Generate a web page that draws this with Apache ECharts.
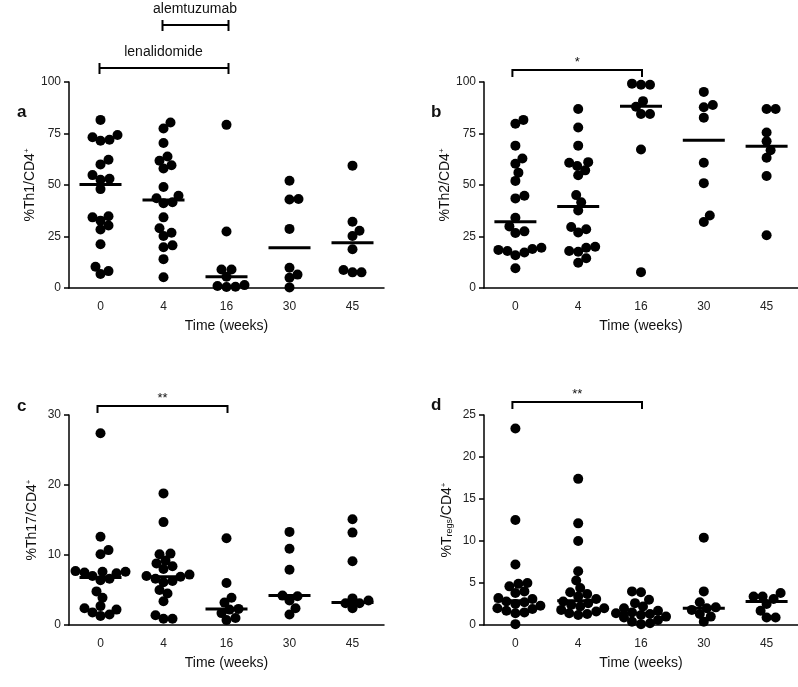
<!DOCTYPE html>
<html><head><meta charset="utf-8">
<script src="https://cdn.jsdelivr.net/npm/echarts@6/dist/echarts.min.js"></script>
<style>html,body{margin:0;padding:0;background:#fff}#c{width:798px;height:687px}</style>
</head><body><div id="c"></div>
<script>
// ---- data ----
const weeks = ['0', '4', '16', '30', '45'];

const th1 = [
  [81.6, 74.3, 73.2, 72.0, 71.5, 62.3, 60.0, 54.8, 53.0, 52.5, 48.0, 34.8, 34.3, 32.7, 30.3, 28.4, 21.2, 10.3, 8.2, 6.8],
  [80.3, 77.4, 70.4, 63.8, 61.8, 59.6, 58.0, 49.0, 44.8, 43.6, 41.6, 41.2, 34.3, 29.0, 26.8, 25.2, 20.7, 19.8, 14.0, 5.2],
  [79.2, 27.4, 9.0, 9.0, 5.5, 1.4, 1.0, 0.6, 0.5],
  [52.1, 43.2, 43.0, 28.7, 9.8, 6.5, 5.0, 0.3],
  [59.4, 32.2, 27.8, 25.2, 18.8, 8.7, 7.6, 7.6]
];
const th1Median = [50.3, 42.7, 5.5, 19.5, 22.0];

const th2 = [
  [81.6, 79.7, 69.1, 62.9, 60.3, 56.0, 52.0, 44.8, 43.5, 34.1, 29.9, 27.5, 26.7, 19.5, 18.9, 18.5, 18.0, 17.2, 15.9, 9.6],
  [86.9, 77.9, 69.1, 61.1, 60.8, 59.2, 57.1, 54.7, 45.1, 41.6, 37.6, 29.6, 28.5, 26.9, 20.0, 19.5, 18.0, 17.6, 14.4, 12.3],
  [99.2, 98.7, 98.7, 90.7, 88.0, 84.5, 84.5, 67.2, 7.7],
  [95.2, 88.8, 87.7, 82.7, 60.8, 50.9, 35.2, 32.0],
  [86.9, 86.9, 75.5, 71.2, 66.9, 63.2, 54.4, 25.6]
];
const th2Median = [32.1, 39.6, 88.2, 71.7, 68.8];

const th17 = [
  [27.4, 12.6, 10.7, 10.1, 7.7, 7.6, 7.6, 7.5, 7.4, 7.0, 6.6, 6.4, 4.8, 3.9, 2.7, 2.4, 2.2, 1.8, 1.5, 1.3],
  [18.8, 14.7, 10.2, 10.1, 9.2, 8.8, 8.4, 8.0, 7.2, 7.0, 6.9, 6.6, 6.3, 6.1, 5.0, 4.5, 3.4, 1.4, 0.9, 0.9],
  [12.4, 6.0, 3.9, 3.2, 2.3, 2.2, 1.7, 1.0, 0.7],
  [13.3, 10.9, 7.9, 4.2, 4.1, 3.5, 2.4, 1.5],
  [15.1, 13.2, 9.1, 3.8, 3.5, 3.1, 3.1, 2.4]
];
const th17Median = [6.8, 6.9, 2.3, 4.2, 3.2];

const tregs = [
  [23.4, 12.5, 7.2, 5.0, 4.9, 4.6, 4.0, 3.8, 3.2, 3.1, 2.8, 2.7, 2.5, 2.3, 2.0, 1.9, 1.7, 1.5, 1.4, 0.1],
  [17.4, 12.1, 10.0, 6.4, 5.3, 4.4, 3.9, 3.7, 3.4, 3.1, 2.8, 2.6, 2.4, 2.2, 2.0, 1.8, 1.6, 1.4, 1.3, 1.2],
  [4.0, 3.9, 3.0, 2.6, 2.2, 2.0, 1.7, 1.5, 1.4, 1.3, 1.2, 1.0, 0.9, 0.6, 0.4, 0.2, 0.1],
  [10.4, 4.0, 2.7, 2.1, 2.0, 1.8, 1.3, 1.0, 0.4],
  [3.8, 3.4, 3.4, 3.1, 2.5, 1.7, 0.9, 0.9]
];
const tregsMedian = [2.9, 2.9, 1.4, 2.0, 2.8];

const yMax = [100, 100, 30, 25];
const yStep = [25, 25, 10, 5];

// ---- layout / style ----
const FONT = 'Liberation Sans, Arial, sans-serif';
const DOT = 10;
const SPREAD = 27;
const grids = [
  {left: 69, top: 82, width: 315, height: 206},
  {left: 484, top: 82, width: 314, height: 206},
  {left: 69, top: 415, width: 315, height: 210},
  {left: 484, top: 415, width: 314, height: 210}
];
const yNames = [
  '{a|%Th1/CD4}{s|+}',
  '{a|%Th2/CD4}{s|+}',
  '{a|%Th17/CD4}{s|+}',
  '{a|%T}{b|regs}{a|/CD4}{s|+}'
];
const panels = [
  {vals: th1, med: th1Median},
  {vals: th2, med: th2Median},
  {vals: th17, med: th17Median},
  {vals: tregs, med: tregsMedian}
];

const chart = echarts.init(document.getElementById('c'), null, {renderer: 'canvas'});

function buildOption(offsets) {
  const xAxis = [], yAxis = [], series = [];
  grids.forEach((g, p) => {
    xAxis.push({
      type: 'category', gridIndex: p, data: weeks, boundaryGap: true,
      name: 'Time (weeks)', nameLocation: 'middle', nameGap: 31,
      nameTextStyle: {fontFamily: FONT, fontSize: 14, color: '#111'},
      axisLine: {lineStyle: {color: '#000', width: 1.5}},
      axisTick: {alignWithLabel: true, length: 5, lineStyle: {color: '#000', width: 1.5}},
      axisLabel: {fontFamily: FONT, fontSize: 12, color: '#222', margin: 13},
      splitLine: {show: false}
    });
    yAxis.push({
      type: 'value', gridIndex: p, min: 0, max: yMax[p], interval: yStep[p],
      name: yNames[p], nameLocation: 'middle', nameGap: 30, nameRotate: 90,
      nameTextStyle: {fontFamily: FONT, color: '#111', rich: {
        a: {fontFamily: FONT, fontSize: 14, color: '#111'},
        s: {fontFamily: FONT, fontSize: 8, color: '#111', verticalAlign: 'top'},
        b: {fontFamily: FONT, fontSize: 9, color: '#111', verticalAlign: 'bottom'}
      }},
      axisLine: {show: true, lineStyle: {color: '#000', width: 1.5}},
      axisTick: {show: true, length: 5, lineStyle: {color: '#000', width: 1.5}},
      axisLabel: {fontFamily: FONT, fontSize: 12, color: '#222', margin: 8},
      splitLine: {show: false}
    });
    const pts = [];
    panels[p].vals.forEach((arr, ci) => {
      arr.forEach((v, k) => {
        const item = {value: [ci, v]};
        if (offsets) item.symbolOffset = [offsets[p][ci][k], 0];
        pts.push(item);
      });
    });
    series.push({
      type: 'scatter', xAxisIndex: p, yAxisIndex: p, symbol: 'circle', symbolSize: DOT,
      itemStyle: {color: '#000', opacity: 1}, data: pts, silent: true, z: 2
    });
    series.push({
      type: 'scatter', xAxisIndex: p, yAxisIndex: p, symbol: 'rect', symbolSize: [42, 3],
      itemStyle: {color: '#000', opacity: 1}, data: panels[p].med.map((m, ci) => [ci, m]), silent: true, z: 3
    });
  });
  return {
    animation: false,
    backgroundColor: '#fff',
    grid: grids.map(g => Object.assign({containLabel: false}, g)),
    xAxis, yAxis, series
  };
}

chart.setOption(buildOption(null));

// beeswarm horizontal spreading computed from the pixel positions given by the axes
const offsets = panels.map((pan, p) => pan.vals.map((arr, ci) => {
  const ys = arr.map(v => chart.convertToPixel({seriesIndex: p * 2}, [ci, v])[1]);
  const order = ys.map((y, i) => i).sort((a, b) => ys[b] - ys[a]);
  const placed = [];
  const res = new Array(arr.length).fill(0);
  const minD = DOT * 0.85;
  order.forEach(i => {
    const cands = [0];
    for (let s = 1; s <= SPREAD; s++) { cands.push(s, -s); }
    let best = 0, bestD = -1;
    for (const dx of cands) {
      let md = Infinity;
      for (const q of placed) {
        const ddx = dx - q.x, ddy = ys[i] - q.y;
        md = Math.min(md, Math.sqrt(ddx * ddx + ddy * ddy));
      }
      if (md >= minD) { best = dx; bestD = md; break; }
      if (md > bestD) { bestD = md; best = dx; }
    }
    res[i] = best; placed.push({x: best, y: ys[i]});
  });
  return res;
}));

const opt = buildOption(offsets);

// annotations (brackets and labels) placed using the axis scales
function px(p, ci) { return chart.convertToPixel({seriesIndex: p * 2}, [ci, 0])[0]; }
const g = [];
const lineStyle = {stroke: '#000', lineWidth: 2};
function hline(x1, x2, y) { g.push({type: 'line', shape: {x1, y1: y, x2, y2: y}, style: lineStyle}); }
function vline(x, y1, y2) { g.push({type: 'line', shape: {x1: x, y1, x2: x, y2}, style: lineStyle}); }
function text(t, x, y, size, bold, align) {
  g.push({type: 'text', x, y, style: {text: t, fontFamily: FONT, fontSize: size, fontWeight: bold ? 'bold' : 'normal',
    fill: '#111', textAlign: align || 'center', textVerticalAlign: 'middle'}});
}
{
  const x0 = px(0, 0), x1 = px(0, 1), x2 = px(0, 2);
  hline(x1 - 1, x2 + 2, 25); vline(x1 - 1, 20, 31); vline(x2 + 2, 20, 31);
  text('alemtuzumab', (x1 + x2) / 2, 9, 14, false);
  hline(x0 - 1, x2 + 2, 68); vline(x0 - 1, 63, 74); vline(x2 + 2, 63, 74);
  text('lenalidomide', (x0 + x2) / 2, 52, 14, false);
}
function sig(p, y, label) {
  const x0 = px(p, 0) - 3, x2 = px(p, 2) + 1;
  hline(x0, x2, y); vline(x0, y - 1, y + 7); vline(x2, y - 1, y + 7);
  text(label, (x0 + x2) / 2, y - 8, 13, false);
}
sig(1, 70, '*');
sig(2, 406, '**');
sig(3, 402, '**');
text('a', 17, 112, 17, true, 'left');
text('b', 431, 112, 17, true, 'left');
text('c', 17, 406, 17, true, 'left');
text('d', 431, 405, 17, true, 'left');
opt.graphic = g;

chart.setOption(opt, true);
</script></body></html>
